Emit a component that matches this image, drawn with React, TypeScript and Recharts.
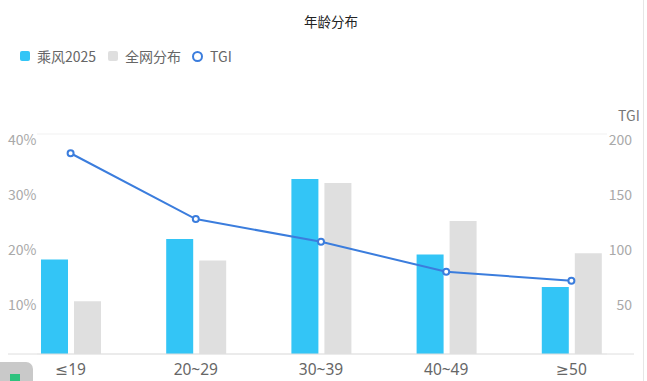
import React from "react";
import {
  ComposedChart,
  Bar,
  Line,
  XAxis,
  YAxis,
  CartesianGrid,
} from "recharts";

const categories = ["≤19", "20~29", "30~39", "40~49", "≥50"];
const chengfeng = [17.2, 20.9, 31.8, 18.1, 12.2];
const quanwang = [9.6, 17.0, 31.1, 24.2, 18.3];
const tgi = [182.5, 122.7, 102.0, 74.8, 66.6];
const leftTicks = [10, 20, 30, 40];
const rightTicks = [50, 100, 150, 200];

const data = categories.map((c, i) => ({
  name: c,
  chengfeng: chengfeng[i],
  quanwang: quanwang[i],
  tgi: tgi[i],
}));

const FONT = "'Noto Sans CJK SC', 'Noto Sans', sans-serif";
const LATIN = "'Noto Sans', 'DejaVu Sans', sans-serif";
const BLUE = "#33c5f6";
const GRAY = "#dfdfdf";
const LINE = "#3b7ddd";

const LeftTick = (props: any) => {
  const { x, y, payload } = props;
  return (
    <text x={x} y={y + 7} textAnchor="start" dominantBaseline="middle" fontSize={14} fill="#a9a9a9" fontFamily={FONT}>
      {payload.value}%
    </text>
  );
};

const RightTick = (props: any) => {
  const { x, y, payload } = props;
  return (
    <text x={x - 2} y={y + 7} textAnchor="end" dominantBaseline="middle" fontSize={14} fill="#a9a9a9" fontFamily={FONT}>
      {payload.value}
    </text>
  );
};

const XTick = (props: any) => {
  const { x, y, payload } = props;
  return (
    <text x={x} y={y + 9} textAnchor="middle" dominantBaseline="middle" fontSize={15.5} fill="#666" fontFamily={LATIN}>
      {payload.value}
    </text>
  );
};

const GridLine = (props: any) => {
  const { x1, x2, y1, y2 } = props;
  return <line x1={x1 + 29} x2={x2 - 27} y1={y1} y2={y2} stroke="#f1f1f1" strokeWidth={1} />;
};

const legendItems = [
  { label: "乘风2025", color: BLUE, kind: "bar" },
  { label: "全网分布", color: GRAY, kind: "bar" },
  { label: "TGI", color: LINE, kind: "line" },
];

const LegendBox = () => (
  <div
    style={{
      position: "absolute",
      top: 46,
      left: 20,
      display: "flex",
      alignItems: "center",
      fontFamily: FONT,
      fontSize: 14,
      color: "#666",
      lineHeight: "20px",
    }}
  >
    {legendItems.map((it, i) => (
      <span key={it.label} style={{ display: "inline-flex", alignItems: "center", marginRight: i === 0 ? 12 : 11 }}>
        {it.kind === "bar" ? (
          <span style={{ display: "inline-block", width: 10, height: 10, borderRadius: 2, background: it.color, marginRight: 7 }} />
        ) : (
          <span
            style={{
              display: "inline-block",
              width: 7,
              height: 7,
              borderRadius: "50%",
              border: `2.5px solid ${it.color}`,
              marginRight: 7,
            }}
          />
        )}
        <span>{it.label}</span>
      </span>
    ))}
  </div>
);

export default function App() {
  return (
    <div style={{ position: "absolute", left: 0, top: 0, width: 647, height: 381, background: "#fff", overflow: "hidden" }}>
      <div
        style={{
          position: "absolute",
          top: 11,
          left: 0,
          width: 662,
          textAlign: "center",
          fontFamily: FONT,
          fontSize: 13.5,
          color: "#222",
        }}
      >
        年龄分布
      </div>
      <LegendBox />
      <div style={{ position: "absolute", left: 0, top: 0 }}>
        <ComposedChart
          width={647}
          height={381}
          data={data}
          margin={{ top: 134, right: 13, bottom: 26, left: 8 }}
          barSize={27}
          barGap={6}
        >
          <CartesianGrid vertical={false} horizontal={<GridLine />} />
          <XAxis
            dataKey="name"
            tickLine={false}
            axisLine={{ stroke: "#dedede" }}
            tick={<XTick />}
            interval={0}
            height={1}
          />
          <YAxis
            yAxisId="left"
            orientation="left"
            mirror
            width={1}
            domain={[0, 40]}
            ticks={leftTicks}
            axisLine={false}
            tickLine={false}
            tickSize={0}
            tickMargin={0}
            tick={<LeftTick />}
          />
          <YAxis
            yAxisId="right"
            orientation="right"
            mirror
            width={1}
            domain={[0, 200]}
            ticks={rightTicks}
            axisLine={false}
            tickLine={false}
            tickSize={0}
            tickMargin={0}
            tick={<RightTick />}
            label={{
              content: (p: any) => (
                <text x={p.viewBox.x - 4} y={p.viewBox.y - 13} textAnchor="middle" fontSize={14} fill="#777" fontFamily={FONT}>
                  TGI
                </text>
              ),
            }}
          />
          <Bar yAxisId="left" dataKey="chengfeng" name="乘风2025" fill={BLUE} isAnimationActive={false} />
          <Bar yAxisId="left" dataKey="quanwang" name="全网分布" fill={GRAY} isAnimationActive={false} />
          <Line
            yAxisId="right"
            dataKey="tgi"
            name="TGI"
            stroke={LINE}
            strokeWidth={2}
            dot={{ r: 3, fill: "#fff", stroke: LINE, strokeWidth: 2 }}
            activeDot={false}
            isAnimationActive={false}
          />
        </ComposedChart>
      </div>
      <div style={{ position: "absolute", left: 643, top: 0, width: 1, height: 381, background: "#e6e6e6" }} />
      <div style={{ position: "absolute", left: -6, top: 362, width: 39, height: 30, borderRadius: 7, background: "#c9c9c9" }} />
      <div style={{ position: "absolute", left: 10, top: 374, width: 10, height: 9, background: "#2ec27e" }} />
    </div>
  );
}
